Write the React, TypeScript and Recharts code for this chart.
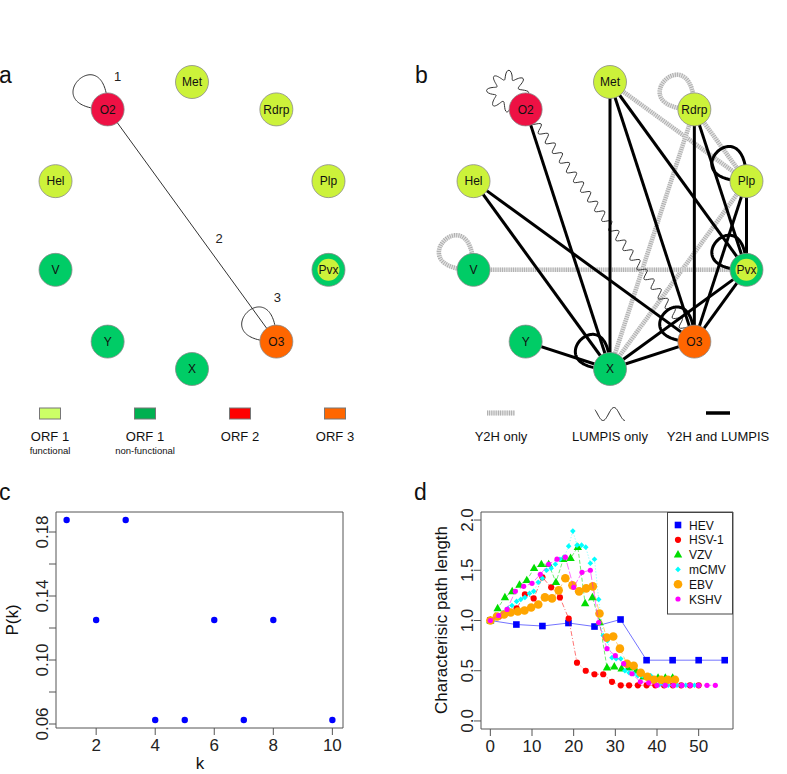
import React from 'react';
import { ScatterChart, Scatter, XAxis, YAxis, ReferenceArea } from 'recharts';

const FONT = 'Arial, "Liberation Sans", Helvetica, sans-serif';

// ---- networks (a, b): nodes listed clockwise from the top of the ring
const NODES = ['Met', 'Rdrp', 'Plp', 'Pvx', 'O3', 'X', 'Y', 'V', 'Hel', 'O2'];
const NODE_GROUP = ['f', 'f', 'f', 'pvx', 'orf3', 'n', 'n', 'n', 'f', 'orf2'];

const EDGES_A = [['O2', 'O2'], ['O2', 'O3'], ['O3', 'O3']];
const EDGE_LABELS_A = ['1', '2', '3'];

const EDGES_Y2H = [['Met', 'Plp'], ['Rdrp', 'Plp'], ['Rdrp', 'X'], ['Plp', 'X'], ['V', 'Pvx'], ['V', 'V'], ['Rdrp', 'Rdrp']];
const EDGES_LUMPIS = [['O2', 'O3'], ['O2', 'O2']];
const EDGES_BOTH = [
  ['O2', 'X'], ['Met', 'X'], ['Met', 'O3'], ['Met', 'Pvx'], ['Rdrp', 'O3'], ['Rdrp', 'Pvx'],
  ['Plp', 'Pvx'], ['Plp', 'O3'], ['Hel', 'X'], ['Hel', 'O3'], ['Y', 'X'], ['X', 'O3'],
  ['X', 'Pvx'], ['O3', 'Pvx'], ['X', 'X'], ['O3', 'O3'], ['Pvx', 'Pvx'], ['Plp', 'Plp'],
];

// ---- c: degree distribution
const K_VALUES = [1, 2, 3, 4, 5, 6, 7, 8, 10];
const PK_VALUES = [0.1875, 0.125, 0.1875, 0.0625, 0.0625, 0.125, 0.0625, 0.125, 0.0625];
const C_X_TICKS = [2, 4, 6, 8, 10];
const C_Y_TICKS = [0.06, 0.08, 0.1, 0.12, 0.14, 0.16, 0.18];
const C_Y_LABELED = [0.06, 0.1, 0.14, 0.18];

// ---- d: characteristic path length
const HEV_X = [0, 6.25, 12.5, 18.75, 25, 31.25, 37.5, 43.75, 50, 56.25];
const HEV_Y = [1.0, 0.96, 0.945, 0.975, 0.94, 1.01, 0.605, 0.605, 0.605, 0.605];
const HSV1_X = [0, 2.1, 4.2, 6.3, 8.3, 10.4, 12.5, 14.6, 16.7, 18.8, 20.8, 22.9, 25, 27.1, 29.2, 31.3, 33.3, 35.4, 37.5, 39.6, 41.7, 43.8, 45.8, 47.9, 50];
const HSV1_Y = [1.0, 1.04, 1.08, 1.12, 1.26, 1.22, 1.43, 1.33, 1.23, 1.02, 0.58, 0.5, 0.465, 0.465, 0.39, 0.355, 0.355, 0.355, 0.355, 0.355, 0.355, 0.355, 0.355, 0.355, 0.355];
const VZV_X = [0, 1.75, 3.5, 5.25, 7, 8.75, 10.5, 12.25, 14, 15.75, 17.5, 19.25, 21, 22.75, 24.5, 26.25, 28, 29.75, 31.5, 33.25, 35, 36.75, 38.5, 40.25, 42, 43.75];
const VZV_Y = [1.0, 1.12, 1.23, 1.29, 1.355, 1.4, 1.52, 1.56, 1.56, 1.38, 1.61, 1.62, 1.73, 1.17, 1.23, 0.98, 0.53, 0.54, 0.52, 0.53, 0.5, 0.44, 0.43, 0.43, 0.43, 0.43];
const MCMV_X = [0, 1.0, 2.1, 3.1, 4.2, 5.2, 6.3, 7.3, 8.3, 9.4, 10.4, 11.5, 12.5, 13.5, 14.6, 15.6, 16.7, 17.7, 18.8, 19.8, 20.8, 21.9, 22.9, 24.0, 25.0, 26.0, 27.1, 28.1, 29.2, 30.2, 31.3, 32.3, 33.3, 34.4, 35.4, 36.5, 37.5, 38.5, 39.6, 40.6, 41.7, 42.7, 43.8, 44.8, 45.8, 46.9, 47.9, 49.0, 50.0];
const MCMV_Y = [1.0, 1.02, 1.05, 1.08, 1.12, 1.15, 1.19, 1.21, 1.23, 1.27, 1.29, 1.38, 1.42, 1.5, 1.52, 1.56, 1.61, 1.63, 1.74, 1.89, 1.75, 1.75, 1.73, 1.57, 1.61, 1.21, 0.85, 0.8, 0.63, 0.62, 0.62, 0.5, 0.48, 0.47, 0.45, 0.45, 0.45, 0.45, 0.42, 0.36, 0.355, 0.355, 0.355, 0.355, 0.355, 0.355, 0.355, 0.355, 0.355];
const EBV_X = [0, 1.6, 3.3, 4.9, 6.6, 8.2, 9.8, 11.5, 13.1, 14.8, 16.4, 18, 19.7, 21.3, 23, 24.6, 26.2, 27.9, 29.5, 31.1, 32.8, 34.4, 36.1, 37.7, 39.3, 41, 42.6, 44.3];
const EBV_Y = [1.0, 1.04, 1.06, 1.08, 1.09, 1.1, 1.13, 1.16, 1.23, 1.22, 1.3, 1.42, 1.35, 1.29, 1.32, 1.34, 1.07, 0.83, 0.84, 0.72, 0.57, 0.55, 0.48, 0.44, 0.41, 0.41, 0.41, 0.41];
const KSHV_X = [0, 2, 4, 6, 8, 10, 12, 14, 16, 18, 20, 22, 24, 26, 28, 30, 32, 34, 36, 38, 40, 42, 44, 46, 48, 50, 52, 54];
const KSHV_Y = [1.0, 1.05, 1.11, 1.29, 1.34, 1.37, 1.46, 1.56, 1.61, 1.63, 1.33, 1.48, 1.5, 0.98, 0.72, 0.65, 0.57, 0.47, 0.39, 0.38, 0.355, 0.355, 0.355, 0.355, 0.355, 0.355, 0.355, 0.355];

const SERIES_NAMES = ['HEV', 'HSV-1', 'VZV', 'mCMV', 'EBV', 'KSHV'];
const SERIES_X = [HEV_X, HSV1_X, VZV_X, MCMV_X, EBV_X, KSHV_X];
const SERIES_Y = [HEV_Y, HSV1_Y, VZV_Y, MCMV_Y, EBV_Y, KSHV_Y];
const SERIES_COLORS = ['#0000ff', '#ff0000', '#00dd00', '#00ffff', '#ffa500', '#ff00ff'];
const SERIES_MARKERS = ['square', 'circle', 'triangle', 'diamond', 'big', 'small'];
const SERIES_DASH = [undefined, '5 2 1 2', '4 2', '1 2', '5 3', '7 2'];
const D_X_TICKS = [0, 10, 20, 30, 40, 50];
const D_Y_TICKS = [0, 0.5, 1, 1.5, 2];

const GROUP_FILL: Record<string, string> = {
  f: '#ccf23a',
  n: '#00cc66',
  orf2: '#ee1144',
  orf3: '#ff6600',
  pvx: '#00cc66',
};

const ringNode = (name: string) => {
  const i = NODES.indexOf(name);
  const t = (2 * Math.PI * i) / NODES.length;
  return { name, group: NODE_GROUP[i], x: Math.sin(t), y: Math.cos(t) };
};

type Pt = { x: number; y: number };

function loopPoints(cx: number, cy: number, s: number): Pt[] {
  const pts: Pt[] = [];
  for (let i = 0; i <= 80; i++) {
    const t = i / 80;
    const u = 1 - t;
    pts.push({ x: cx - 3 * u * t * t * s, y: cy - 3 * u * u * t * s });
  }
  return pts;
}

function polyPath(pts: Pt[]) {
  return 'M' + pts.map((p) => `${p.x.toFixed(2)},${p.y.toFixed(2)}`).join('L');
}

function wavyPath(pts: Pt[], amp: number, period: number) {
  const out: Pt[] = [];
  let acc = 0;
  for (let i = 0; i < pts.length - 1; i++) {
    const a = pts[i];
    const b = pts[i + 1];
    const dx = b.x - a.x;
    const dy = b.y - a.y;
    const len = Math.hypot(dx, dy);
    if (len === 0) continue;
    const nx = -dy / len;
    const ny = dx / len;
    const steps = Math.max(1, Math.ceil(len));
    for (let k = 0; k < steps; k++) {
      const t = k / steps;
      const off = amp * Math.sin((2 * Math.PI * (acc + t * len)) / period);
      out.push({ x: a.x + dx * t + nx * off, y: a.y + dy * t + ny * off });
    }
    acc += len;
  }
  out.push(pts[pts.length - 1]);
  return polyPath(out);
}

function styledPath(d: string, kind: string, wavy?: string) {
  if (kind === 'y2h') {
    return (
      <g>
        <path d={d} fill="none" stroke="#e2e2e2" strokeWidth={4.5} />
        <path d={d} fill="none" stroke="#a6a6a6" strokeWidth={4.5} strokeDasharray="0.8 1.4" />
      </g>
    );
  }
  if (kind === 'lumpis') return <path d={wavy || d} fill="none" stroke="#333" strokeWidth={1} />;
  if (kind === 'both') return <path d={d} fill="none" stroke="#000" strokeWidth={3} />;
  return <path d={d} fill="none" stroke="#333" strokeWidth={1} />;
}

function EdgeLine(props: any) {
  const { points, kind, label } = props;
  if (!points || points.length < 2) return <g />;
  const [a, b] = points;
  const pts = [{ x: a.x, y: a.y }, { x: b.x, y: b.y }];
  const d = polyPath(pts);
  return (
    <g>
      {styledPath(d, kind, kind === 'lumpis' ? wavyPath(pts, 4, 12) : undefined)}
      {label && (
        <text x={(a.x + b.x) / 2 + 27} y={(a.y + b.y) / 2 + 17} fontSize={13} fontFamily={FONT} fill="#222" textAnchor="middle">
          {label}
        </text>
      )}
    </g>
  );
}

function LoopShape(props: any) {
  const { cx, cy, kind, label, ldx = 0, ldy = 0 } = props;
  const pts = loopPoints(cx, cy, 78);
  const d = polyPath(pts);
  return (
    <g>
      {styledPath(d, kind, kind === 'lumpis' ? wavyPath(pts, 4.5, 13) : undefined)}
      {label && (
        <text x={cx + ldx} y={cy + ldy} fontSize={13} fontFamily={FONT} fill="#222" textAnchor="middle">
          {label}
        </text>
      )}
    </g>
  );
}

function NodeShape(props: any) {
  const { cx, cy, payload } = props;
  const g = payload.group;
  return (
    <g>
      <circle cx={cx} cy={cy} r={16.5} fill={GROUP_FILL[g]} stroke="#8a8a8a" strokeWidth={0.8} />
      {g === 'pvx' && <circle cx={cx} cy={cy} r={11} fill="#ccf23a" />}
      <text x={cx} y={cy + 4.3} textAnchor="middle" fontSize={12} fontFamily={FONT} fill="#111">
        {payload.name}
      </text>
    </g>
  );
}

const blank = () => <g />;

function renderEdges(edges: string[][], kind: string, labels?: string[], loopOffsets?: number[][]) {
  return edges.map(([s, t], i) => {
    const key = `${kind}-${s}-${t}-${i}`;
    const label = labels ? labels[i] : undefined;
    if (s === t) {
      const off = loopOffsets ? loopOffsets[i] : [0, 0];
      return (
        <Scatter
          key={key}
          data={[ringNode(s)]}
          isAnimationActive={false}
          shape={(p: any) => <LoopShape {...p} kind={kind} label={label} ldx={off[0]} ldy={off[1]} />}
        />
      );
    }
    return (
      <Scatter
        key={key}
        data={[ringNode(s), ringNode(t)]}
        isAnimationActive={false}
        shape={blank}
        line={<EdgeLine kind={kind} label={label} />}
      />
    );
  });
}

function Network({ width, height, children }: { width: number; height: number; children: React.ReactNode }) {
  const R = 143.5;
  const hx = width / 2 / R;
  const hy = height / 2 / R;
  return (
    <ScatterChart width={width} height={height} margin={{ top: 0, right: 0, bottom: 0, left: 0 }}>
      <XAxis type="number" dataKey="x" domain={[-hx, hx]} allowDataOverflow hide />
      <YAxis type="number" dataKey="y" domain={[-hy, hy]} allowDataOverflow hide />
      {children}
      <Scatter data={NODES.map(ringNode)} shape={NodeShape} isAnimationActive={false} />
    </ScatterChart>
  );
}

function XTick(props: any) {
  const { x, y, payload } = props;
  return (
    <text x={x} y={y + 14} textAnchor="middle" fontSize={17} fontFamily={FONT} fill="#222">
      {payload.value}
    </text>
  );
}

function YTick(props: any) {
  const { x, y, payload, labeled, digits } = props;
  if (labeled && !labeled.some((v: number) => Math.abs(v - payload.value) < 1e-9)) return <g />;
  const bx = x + 1;
  return (
    <text x={bx} y={y} transform={`rotate(-90 ${bx} ${y})`} textAnchor="middle" fontSize={17} fontFamily={FONT} fill="#222">
      {Number(payload.value).toFixed(digits)}
    </text>
  );
}

function Marker({ kind, cx, cy, color }: { kind: string; cx: number; cy: number; color: string }) {
  switch (kind) {
    case 'square':
      return <rect x={cx - 3.3} y={cy - 3.3} width={6.6} height={6.6} fill={color} />;
    case 'triangle':
      return <polygon points={`${cx},${cy - 4.6} ${cx - 4.2},${cy + 2.8} ${cx + 4.2},${cy + 2.8}`} fill={color} />;
    case 'diamond':
      return <polygon points={`${cx},${cy - 2.8} ${cx + 2.8},${cy} ${cx},${cy + 2.8} ${cx - 2.8},${cy}`} fill={color} />;
    case 'big':
      return <circle cx={cx} cy={cy} r={4.3} fill={color} />;
    case 'small':
      return <circle cx={cx} cy={cy} r={2.6} fill={color} />;
    default:
      return <circle cx={cx} cy={cy} r={3.1} fill={color} />;
  }
}

function PanelC() {
  const data = K_VALUES.map((k, i) => ({ x: k, y: PK_VALUES[i] }));
  return (
    <ScatterChart width={360} height={294} margin={{ top: 32, right: 17, bottom: 0, left: 0 }}>
      <XAxis
        type="number" dataKey="x" domain={[0.64, 10.36]} allowDataOverflow ticks={C_X_TICKS} interval={0}
        height={46} tickSize={7} tickLine={{ stroke: '#555' }} axisLine={false} tick={<XTick />}
      />
      <YAxis
        type="number" dataKey="y" domain={[0.0575, 0.1925]} allowDataOverflow ticks={C_Y_TICKS} interval={0}
        width={56} tickSize={7} tickLine={{ stroke: '#555' }} axisLine={false} tick={<YTick labeled={C_Y_LABELED} digits={2} />}
      />
      <ReferenceArea x1={0.64} x2={10.36} y1={0.0575} y2={0.1925} fill="none" stroke="#555" strokeWidth={1} ifOverflow="visible" />
      <Scatter
        data={data}
        fill="#0000ff"
        isAnimationActive={false}
        shape={(p: any) => <circle cx={p.cx} cy={p.cy} r={3.2} fill="#0000ff" />}
      />
    </ScatterChart>
  );
}

function PanelD() {
  return (
    <ScatterChart width={387} height={294} margin={{ top: 32, right: 54, bottom: 0, left: 0 }}>
      <XAxis
        type="number" dataKey="x" domain={[-2.24, 58.24]} allowDataOverflow ticks={D_X_TICKS} interval={0}
        height={45} tickSize={7} tickLine={{ stroke: '#555' }} axisLine={false} tick={<XTick />}
      />
      <YAxis
        type="number" dataKey="y" domain={[-0.08, 2.08]} allowDataOverflow ticks={D_Y_TICKS} interval={0}
        width={81} tickSize={7} tickLine={{ stroke: '#555' }} axisLine={false} tick={<YTick digits={1} />}
      />
      <ReferenceArea x1={-2.24} x2={58.24} y1={-0.08} y2={2.08} fill="none" stroke="#555" strokeWidth={1} ifOverflow="visible" />
      {SERIES_NAMES.map((name, si) => {
        const data = SERIES_X[si].map((x, i) => ({ x, y: SERIES_Y[si][i] }));
        const color = SERIES_COLORS[si];
        return (
          <Scatter
            key={name}
            name={name}
            data={data}
            fill={color}
            isAnimationActive={false}
            line={{ stroke: color, strokeWidth: 1, strokeOpacity: 0.55, strokeDasharray: SERIES_DASH[si] }}
            shape={(p: any) => <Marker kind={SERIES_MARKERS[si]} cx={p.cx} cy={p.cy} color={color} />}
          />
        );
      })}
    </ScatterChart>
  );
}

const LEGEND_A = [
  { fill: '#ccff66', label: 'ORF 1', sub: 'functional' },
  { fill: '#00b050', label: 'ORF 1', sub: 'non-functional' },
  { fill: '#ff0000', label: 'ORF 2', sub: '' },
  { fill: '#ff6600', label: 'ORF 3', sub: '' },
];
const LEGEND_A_X = [50, 145, 240, 335];

function Overlay() {
  const txt = { fontFamily: FONT, fill: '#111' } as const;
  const wave: Pt[] = [];
  for (let x = 595; x <= 625; x += 0.5) {
    wave.push({ x, y: 414 - 6.5 * Math.cos((2 * Math.PI * (x - 603)) / 22 + Math.PI) });
  }
  return (
    <svg width={787} height={774} style={{ position: 'absolute', left: 0, top: 0, pointerEvents: 'none' }}>
      <text x={-1} y={83} fontSize={23} {...txt}>a</text>
      <text x={415} y={83} fontSize={23} {...txt}>b</text>
      <text x={-1} y={500} fontSize={23} {...txt}>c</text>
      <text x={414} y={500} fontSize={23} {...txt}>d</text>

      {LEGEND_A.map((l, i) => (
        <g key={i}>
          <rect x={LEGEND_A_X[i] - 10.5} y={408} width={21} height={11} fill={l.fill} stroke="#777" strokeWidth={1} />
          <text x={LEGEND_A_X[i]} y={440.5} fontSize={13} textAnchor="middle" {...txt}>{l.label}</text>
          {l.sub && <text x={LEGEND_A_X[i]} y={454} fontSize={9.5} textAnchor="middle" {...txt}>{l.sub}</text>}
        </g>
      ))}

      <line x1={487} y1={413} x2={515} y2={413} stroke="#e2e2e2" strokeWidth={5} />
      <line x1={487} y1={413} x2={515} y2={413} stroke="#a6a6a6" strokeWidth={5} strokeDasharray="0.8 1.4" />
      <path d={polyPath(wave)} fill="none" stroke="#222" strokeWidth={1} />
      <line x1={706} y1={413} x2={730} y2={413} stroke="#000" strokeWidth={3.5} />
      <text x={501} y={440.5} fontSize={13} textAnchor="middle" {...txt}>Y2H only</text>
      <text x={610} y={440.5} fontSize={13} textAnchor="middle" {...txt}>LUMPIS only</text>
      <text x={718} y={440.5} fontSize={13} textAnchor="middle" {...txt}>Y2H and LUMPIS</text>

      <text x={200} y={769} fontSize={17} textAnchor="middle" {...txt}>k</text>
      <text x={18} y={620} fontSize={17} textAnchor="middle" transform="rotate(-90 18 620)" {...txt}>P(k)</text>
      <text x={447} y={620} fontSize={17} textAnchor="middle" transform="rotate(-90 447 620)" {...txt}>Characterisic path length</text>

      <rect x={667.5} y={512.5} width={65} height={101.5} fill="#fff" stroke="#444" strokeWidth={1} />
      {SERIES_NAMES.map((name, i) => (
        <g key={name}>
          <Marker kind={SERIES_MARKERS[i]} cx={678} cy={525 + i * 14.8} color={SERIES_COLORS[i]} />
          <text x={689} y={529.5 + i * 14.8} fontSize={12} {...txt}>{name}</text>
        </g>
      ))}
    </svg>
  );
}

export default function App() {
  return (
    <div style={{ position: 'absolute', left: 0, top: 0, width: 787, height: 774, overflow: 'hidden', background: '#fff', fontFamily: FONT }}>
      <div style={{ position: 'absolute', left: 0, top: 50 }}>
        <Network width={384} height={351}>
          {renderEdges(EDGES_A, 'thin', EDGE_LABELS_A, [[10, -28], [0, 0], [1, -40]])}
        </Network>
      </div>
      <div style={{ position: 'absolute', left: 430, top: 50 }}>
        <Network width={360} height={351}>
          {renderEdges(EDGES_Y2H, 'y2h')}
          {renderEdges(EDGES_LUMPIS, 'lumpis')}
          {renderEdges(EDGES_BOTH, 'both')}
        </Network>
      </div>
      <div style={{ position: 'absolute', left: 0, top: 480 }}>
        <PanelC />
      </div>
      <div style={{ position: 'absolute', left: 400, top: 480 }}>
        <PanelD />
      </div>
      <Overlay />
    </div>
  );
}
